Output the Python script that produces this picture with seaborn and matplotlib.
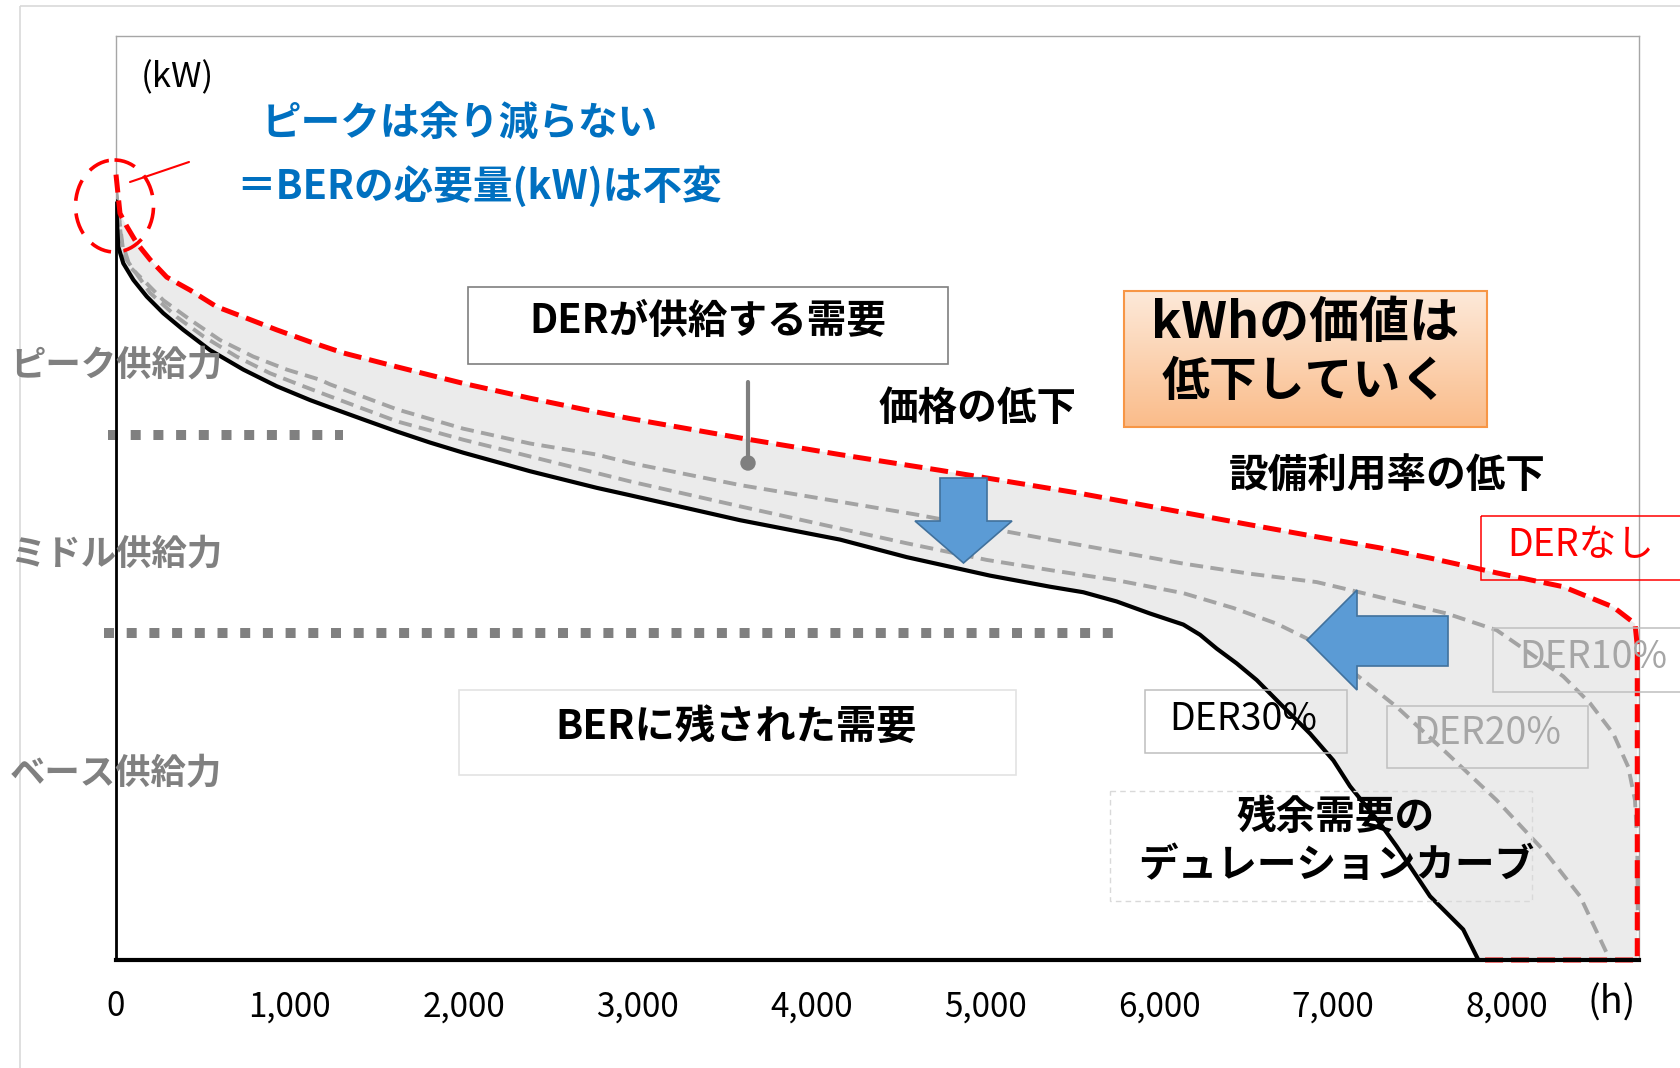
import numpy as np
import matplotlib
matplotlib.use("Agg")
import matplotlib.pyplot as plt
import seaborn as sns
from matplotlib.patches import Rectangle, Polygon, Ellipse, Circle

# ---------------- data (hours per year vs. demand, kW in % of axis) -------------
black_h = [0, 13, 42, 100, 177, 272, 387, 541, 732, 924, 1116, 1231, 1422, 1615,
           1806, 1998, 2190, 2381, 2573, 2765, 2956, 3589, 4164, 4548, 5027, 5372,
           5564, 5756, 5947, 6139, 6235, 6331, 6446, 6561, 6714, 6868, 7002, 7098,
           7270, 7366, 7558, 7749, 7836]
black_kw = [82.1, 77.2, 75.4, 73.6, 71.8, 70.0, 68.2, 66.0, 63.9, 62.1, 60.6, 59.8,
            58.5, 57.2, 56.0, 54.9, 53.9, 52.9, 52.0, 51.1, 50.3, 47.6, 45.5, 43.6,
            41.6, 40.4, 39.8, 38.8, 37.5, 36.3, 35.2, 33.7, 32.1, 30.3, 27.4, 24.5,
            21.6, 18.8, 14.8, 12.3, 6.9, 3.3, 0.0]

red_h = [0, 23, 62, 119, 196, 292, 426, 579, 732, 924, 1116, 1307, 1615, 1998, 2381,
         2765, 2956, 3589, 4164, 4739, 5545, 6120, 6523, 6906, 7270, 7558, 7941,
         8324, 8612, 8737, 8750, 8750, 7836]
red_kw = [85.0, 80.8, 79.4, 77.6, 75.8, 73.9, 72.5, 70.7, 69.6, 68.2, 66.9, 65.7,
          64.2, 62.4, 60.8, 59.3, 58.6, 56.5, 54.7, 53.0, 50.5, 48.5, 47.1, 45.8,
          44.6, 43.5, 41.9, 40.4, 38.2, 36.4, 34.0, 0.0, 0.0]

der10_h = [0, 30, 80, 157, 272, 426, 598, 790, 982, 1173, 1231, 1615, 1998, 2381,
           2765, 2956, 3589, 4164, 4605, 5085, 5372, 5756, 6139, 6523, 6906, 7174,
           7654, 7941, 8133, 8324, 8478, 8612, 8698, 8737, 8750, 8755]
der10_kw = [83.5, 78.0, 75.0, 73.6, 71.4, 69.3, 67.1, 65.3, 63.9, 62.8, 62.3, 59.6,
            57.5, 55.9, 54.7, 53.8, 51.4, 49.6, 48.2, 46.5, 45.5, 44.2, 42.9, 41.8,
            40.9, 39.7, 37.5, 35.7, 33.2, 30.7, 27.8, 24.5, 20.9, 17.3, 12.6, 0.0]

der20_h = [0, 45, 196, 349, 502, 694, 886, 1077, 1231, 1615, 1998, 2381, 2765, 2956,
           3589, 4164, 4548, 5008, 5372, 5756, 6139, 6426, 6676, 6849, 7079, 7366,
           7654, 7941, 8229, 8421, 8593]
der20_kw = [83.0, 76.2, 72.2, 69.6, 67.5, 65.3, 63.5, 62.1, 61.0, 58.3, 56.3, 54.5,
            52.7, 51.8, 49.1, 46.7, 45.1, 43.3, 42.2, 41.1, 39.7, 38.1, 36.4, 34.8,
            31.7, 27.4, 22.4, 17.3, 11.5, 6.9, 0.0]

peak_mid_level = 56.8
peak_mid_span = [-46, 1305]
mid_base_level = 35.4
mid_base_span = [-69, 5786]

tick_pos = [0, 1000, 2000, 3000, 4000, 5000, 6000, 7000, 8000]
tick_labels = ["0", "1,000", "2,000", "3,000", "4,000", "5,000", "6,000", "7,000", "8,000"]
supply_labels = ["ピーク供給力", "ミドル供給力", "ベース供給力"]

# ---------------- style ----------------
sns.set_theme(style="white")
plt.rcParams["font.family"] = ["Noto Sans CJK JP", "DejaVu Sans"]

W, H = 1680, 1068
fig = plt.figure(figsize=(W / 100, H / 100), dpi=100)
fig.patch.set_facecolor("white")

ax = fig.add_axes([116 / W, 1 - 960 / H, (1639 - 116) / W, (960 - 36) / H])
ax.set_xlim(0, 8760)
ax.set_ylim(0, 100)
ax.set_facecolor("white")

# shaded band (DER supplied demand)
ax.fill(np.r_[red_h, black_h[::-1]], np.r_[red_kw, black_kw[::-1]],
        color="#ebebeb", lw=0, zorder=1)

# supply level dotted lines
for lvl, span in [(peak_mid_level, peak_mid_span), (mid_base_level, mid_base_span)]:
    ax.plot(span, [lvl] * 2, color="#808080", lw=7.2,
            linestyle=(0, (1.0, 1.27)), clip_on=False, zorder=2)

# curves
gray_kw = dict(color="#a3a3a3", lw=2.8, linestyle=(0, (3.4, 1.9)), zorder=3)
sns.lineplot(x=der20_h, y=der20_kw, ax=ax, sort=False, estimator=None, **gray_kw)
sns.lineplot(x=der10_h, y=der10_kw, ax=ax, sort=False, estimator=None, **gray_kw)
sns.lineplot(x=black_h, y=black_kw, ax=ax, sort=False, estimator=None,
             color="black", lw=3.0, zorder=4)
sns.lineplot(x=red_h, y=red_kw, ax=ax, sort=False, estimator=None,
             color="#ff0000", lw=3.6, linestyle=(0, (3.6, 1.6)), zorder=5,
             clip_on=False)
ax.vlines(0, 0, black_kw[0], color="black", lw=2.0, zorder=4, clip_on=False)

ax.set_xticks(tick_pos)
ax.set_xticklabels(tick_labels, fontsize=24, color="black",
                   family=["Noto Sans CJK JP", "DejaVu Sans"])
ax.tick_params(axis="x", length=0, pad=21)
ax.set_yticks([])
ax.set_xlabel("")
ax.set_ylabel("")
for s in ["top", "right", "left"]:
    ax.spines[s].set_color("#a6a6a6")
    ax.spines[s].set_linewidth(1.0)
ax.spines["bottom"].set_color("black")
ax.spines["bottom"].set_linewidth(3.0)
ax.spines["bottom"].set_zorder(6)

# ---------------- overlay (pixel coordinates) ----------------
ov = fig.add_axes([0, 0, 1, 1], zorder=5)
ov.set_xlim(0, W)
ov.set_ylim(H, 0)
ov.axis("off")
ov.patch.set_alpha(0)

# outer frame
ov.add_patch(Rectangle((20, 6), 1700, 1100, fill=False, ec="#d9d9d9", lw=1.2))

def box(x0, y0, x1, y1, ec, fc="none", lw=1.1, ls="-", z=6):
    ov.add_patch(Rectangle((x0, y0), x1 - x0, y1 - y0, fc=fc, ec=ec, lw=lw,
                           linestyle=ls, zorder=z))

def txt(x, y, s, size, color="black", weight="normal", z=8):
    ov.text(x, y, s, fontsize=size, color=color, fontweight=weight,
            ha="center", va="center", zorder=z)

# (kW) label
txt(177, 78, "(kW)", 25)
# blue messages
txt(460, 123, "ピークは余り減らない", 28.5, "#0070c0", "bold")
txt(479, 187, "＝BERの必要量(kW)は不変", 28.5, "#0070c0", "bold")

# peak circle + leader
ov.add_patch(Ellipse((114.5, 206), 78, 92, fill=False, ec="#ff0000", lw=2.6,
                     linestyle=(0, (6, 3.5)), zorder=7))
ov.plot([130, 189], [182, 162], color="#ff0000", lw=1.5, zorder=7)

# supply labels
for lab, yy in zip(supply_labels, [365, 554, 773]):
    txt(116, yy, lab, 25.5, "#808080", "bold", z=3)

# DER supplied demand box + leader
box(468, 287, 948, 364, "#7f7f7f", "white", lw=1.2)
txt(708, 321, "DERが供給する需要", 28.5, "black", "bold")
ov.plot([748, 748], [382, 463], color="#7f7f7f", lw=3.0, zorder=7)
ov.add_patch(Circle((748, 463), 7, color="#7f7f7f", zorder=7))

txt(978, 408, "価格の低下", 28.5, "black", "bold")

# orange gradient box
grad = np.linspace(0, 1, 100)[:, None]
c_top = np.array([0xfd, 0xe9, 0xd9]) / 255
c_bot = np.array([0xfa, 0xbc, 0x8a]) / 255
img = (c_top[None, None, :] * (1 - grad[:, :, None]) + c_bot[None, None, :] * grad[:, :, None])
ov.imshow(img, extent=(1124, 1487, 427, 291), origin="upper", aspect="auto", zorder=6)
box(1124, 291, 1487, 427, "#f79646", lw=1.5, z=7)
txt(1305, 323, "kWhの価値は", 36, "black", "bold")
txt(1305, 381, "低下していく", 34.5, "black", "bold")

txt(1387, 476, "設備利用率の低下", 28.5, "black", "bold")

# DER boxes
box(1481, 516, 1700, 580, "#ff0000", lw=1.1)
txt(1581, 546, "DERなし", 27, "#ff0000")
box(1493, 628, 1700, 692, "#bfbfbf", lw=1.1)
txt(1593, 657, "DER10%", 27, "#a6a6a6")
box(1387, 706, 1588, 768, "#bfbfbf", lw=1.1)
txt(1487, 734, "DER20%", 27, "#a6a6a6")
box(1145, 690, 1347, 753, "#bfbfbf", lw=1.1)
txt(1243, 720, "DER30%", 27, "black")

# BER remaining demand
box(459, 690, 1016, 775, "#e3e3e3", "white", lw=1.2)
txt(736, 727, "BERに残された需要", 29, "black", "bold")

# residual duration curve label
box(1110, 791, 1532, 901, "#d9d9d9", lw=1.0, ls=(0, (4, 3)))
txt(1336, 817, "残余需要の", 28.5, "black", "bold")
txt(1336, 866, "デュレーションカーブ", 28.5, "black", "bold")

# arrows
ov.add_patch(Polygon([(940, 478), (987, 478), (987, 521), (1012, 521), (963.5, 563),
                      (915, 521), (940, 521)], closed=True, fc="#5b9bd5",
                     ec="#41719c", lw=1.2, zorder=7))
ov.add_patch(Polygon([(1307, 640), (1357, 590), (1357, 616), (1448, 616), (1448, 666),
                      (1357, 666), (1357, 690)], closed=True, fc="#5b9bd5",
                     ec="#41719c", lw=1.2, zorder=7))

# (h) label
txt(1612, 1003, "(h)", 27)

ov.set_xlim(0, W)
ov.set_ylim(H, 0)

fig.savefig("out.png", dpi=100)
